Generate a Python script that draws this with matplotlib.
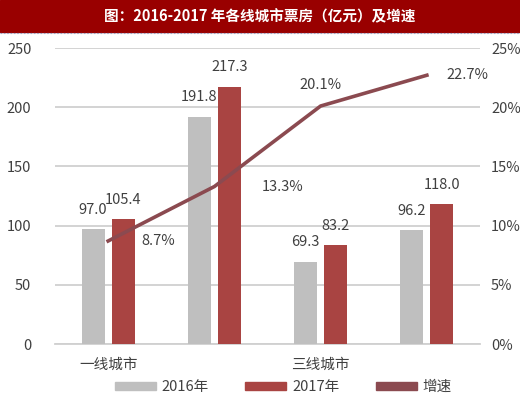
import numpy as np
import matplotlib
matplotlib.use("Agg")
import matplotlib.pyplot as plt
from matplotlib.patches import Rectangle
from matplotlib.lines import Line2D

plt.rcParams['font.family'] = ['Noto Sans CJK SC', 'DejaVu Sans']

# ---- data ----
cities = ["一线城市", "二线城市", "三线城市", "四线城市"]
box_2016 = [97.0, 191.8, 69.3, 96.2]
box_2017 = [105.4, 217.3, 83.2, 118.0]
growth = [8.7, 13.3, 20.1, 22.7]          # percent
series_names = ["2016年", "2017年", "增速"]
title = "图：2016-2017 年各线城市票房（亿元）及增速"

C_2016 = "#bfbfbf"
C_2017 = "#a94442"
C_LINE = "#8b4a50"
C_BANNER = "#990000"
C_TEXT = "#404040"

fig = plt.figure(figsize=(5.2, 3.97), dpi=100)

# title banner
fig.patches.append(Rectangle((0, 1 - 32 / 397), 1, 32 / 397, transform=fig.transFigure,
                             color=C_BANNER, zorder=0))
fig.add_artist(Line2D([0, 1], [1 - 33 / 397] * 2, transform=fig.transFigure,
                      color="#9aa4c8", lw=0.8, ls=(0, (1.5, 1.5))))
fig.text(0.5, 1 - 16 / 397, title, color="white", fontsize=10.5, fontweight="bold",
         ha="center", va="center")

ax = fig.add_axes([55 / 520, 1 - 344 / 397, 425 / 520, 296 / 397])
ax2 = ax.twinx()

x = np.arange(len(cities))
w = 0.217
off = 0.141
ax.bar(x - off, box_2016, w, color=C_2016, zorder=3)
ax.bar(x + off, box_2017, w, color=C_2017, zorder=3)

for xi, v in zip(x - off, box_2016):
    ax.annotate(f"{v:.1f}", (xi, v), xytext=(0, 9), textcoords="offset points",
                ha="center", va="bottom", fontsize=10.5, color=C_TEXT)
for xi, v in zip(x + off, box_2017):
    ax.annotate(f"{v:.1f}", (xi, v), xytext=(0, 9), textcoords="offset points",
                ha="center", va="bottom", fontsize=10.5, color=C_TEXT)

ax.set_ylim(0, 250)
ax.set_yticks(np.arange(0, 251, 50))
ax.set_xlim(-0.5, 3.5)
ax.set_xticks(x)
ax.set_xticklabels([c if i % 2 == 0 else "" for i, c in enumerate(cities)],
                   fontsize=10.5, color=C_TEXT)
ax.grid(axis="y", color="#d0d0d0", lw=1.3, zorder=0)
ax.tick_params(axis="both", length=0, labelsize=10.5, labelcolor=C_TEXT)
ax.tick_params(axis="x", pad=10)
ax.tick_params(axis="y", pad=17)
for s in ["top", "left", "right"]:
    ax.spines[s].set_visible(False)
ax.spines["bottom"].set_color("#d0d0d0")
ax.spines["bottom"].set_linewidth(1.3)

ax2.plot(x, growth, color=C_LINE, lw=2.6, zorder=4)
ax2.set_ylim(0, 25)
ax2.set_yticks(np.arange(0, 26, 5))
ax2.set_yticklabels([f"{t}%" for t in range(0, 26, 5)])
ax2.tick_params(axis="y", length=0, labelsize=10.5, labelcolor=C_TEXT, pad=8)
for s in ax2.spines.values():
    s.set_visible(False)

g_offsets = [(24, 0, "left", "center"), (34, 0, "left", "center"),
             (0, 10, "center", "bottom"), (14, 0, "left", "center")]
for xi, g, (dx, dy, ha, va) in zip(x, growth, g_offsets):
    ax2.annotate(f"{g:.1f}%", (xi, g), xytext=(dx, dy), textcoords="offset points",
                 ha=ha, va=va, fontsize=10.5, color=C_TEXT)

handles = [Rectangle((0, 0), 1, 1, color=C_2016), Rectangle((0, 0), 1, 1, color=C_2017),
           Rectangle((0, 0), 1, 1, color=C_LINE)]
leg = fig.legend(handles, series_names, loc="center", bbox_to_anchor=(0.545, 1 - 387 / 397),
                 ncol=3, frameon=False, fontsize=10.5, handlelength=2.8, handleheight=0.45,
                 columnspacing=2.5, handletextpad=0.4)
for t in leg.get_texts():
    t.set_color(C_TEXT)

fig.savefig("out.png", dpi=100)
